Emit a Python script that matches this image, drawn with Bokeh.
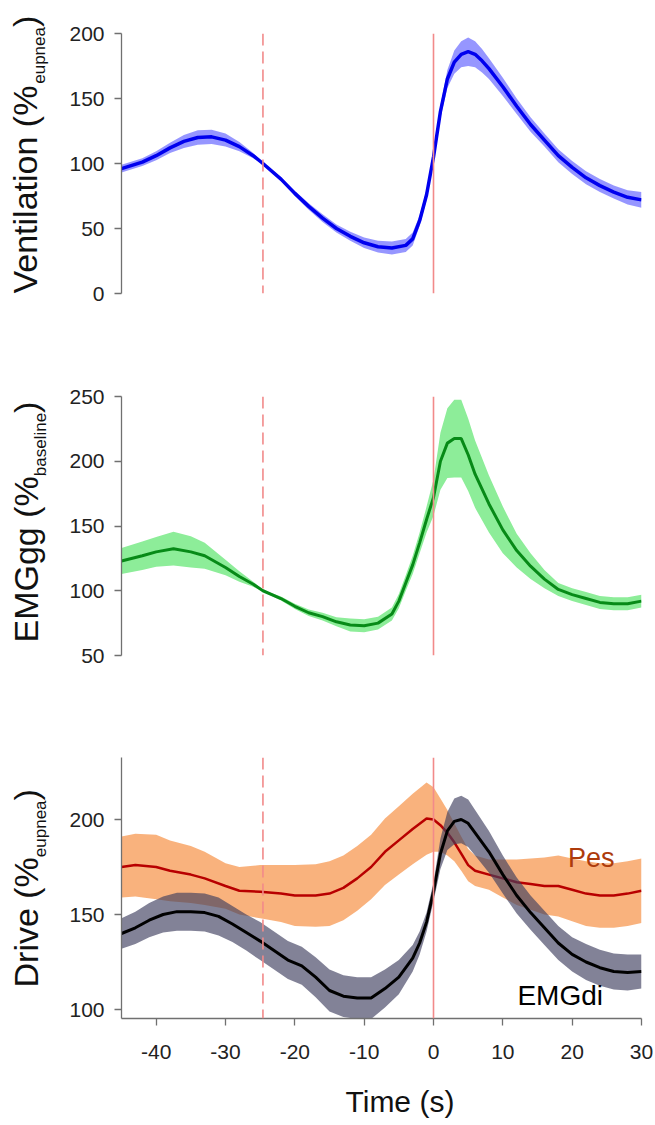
import numpy as np
from bokeh.plotting import figure
from bokeh.layouts import column, row
from bokeh.models import Span, FixedTicker, Range1d
from bokeh.core.properties import value
from bokeh.embed import file_html
from bokeh.resources import INLINE

# ---------------- data ----------------
vent_t = [-45, -42, -40, -38, -36, -34, -32, -30, -28, -26,
          -24.6, -22, -20, -18, -16, -14, -12, -10, -8, -6,
          -4, -3, -2, -1, 0, 1, 2, 3, 4, 5,
          6, 7, 8, 10, 12, 14, 16, 18, 20, 22,
          24, 26, 28, 30]
vent_mean = [96, 101, 106, 112, 117, 120, 120.5, 118, 113, 106,
             100, 88, 77, 67, 58, 50, 44, 39, 36, 35,
             37, 42, 56, 76, 105, 140, 165, 178, 184, 186,
             184, 179, 173, 159, 144, 130, 118, 106, 97, 89,
             83, 78, 74, 72]
vent_sem = [3, 3, 3.5, 4, 5, 5.5, 5.5, 5, 3.5, 2,
            0.5, 1.5, 2, 2.5, 3, 3, 3.5, 4, 4.5, 5,
            5, 5, 4, 4, 3, 5, 7, 9, 10, 11,
            10, 9, 8, 7, 6, 5.5, 5, 5, 5, 5,
            5, 5, 5.5, 6]

gg_t = [-45, -42, -40, -37.5, -35, -33, -30, -28, -26, -24.6,
        -22, -20, -18, -16, -14, -12, -10, -8, -6, -5,
        -4, -3, -2, -1, 0, 1, 2, 3, 4, 5,
        6, 8, 10, 12, 14, 16, 18, 20, 22, 24,
        26, 28, 30]
gg_mean = [123, 127, 130, 132.5, 130, 127, 118, 111, 105, 100,
           94, 88, 83, 80, 76, 73.5, 73, 75, 82, 92,
           106, 120, 137, 155, 172, 200, 214, 217.5, 217.5, 205,
           190, 167, 147, 131, 119, 109, 101, 97, 94, 91,
           90, 90, 92]
gg_sem = [10, 11, 11.5, 13, 12, 10, 6, 4, 2, 0.5,
          1.5, 2, 2.5, 3, 3.5, 5, 5, 5, 5, 5.5,
          6, 7, 8, 10, 14, 22, 27, 30, 30, 28,
          26, 22, 18, 13, 10, 7, 5, 5, 5, 5,
          5, 5, 5]

pes_t = [-45, -43, -40, -38, -35, -33, -30, -28, -25, -22,
         -20, -17, -15, -13, -11, -9, -7, -5, -3, -1,
         0, 1, 2, 3, 4, 5, 6, 8, 10, 12,
         14, 16, 18, 20, 22, 24, 26, 28, 30]
pes_mean = [175, 176, 175, 173, 171, 169, 165, 162.5, 162, 161,
            160, 160, 161, 164, 169, 175, 183, 189, 195, 200.5,
            200, 197, 193, 188, 182, 176, 173, 171, 169, 167,
            166, 165, 165, 163, 161, 160, 160, 161, 162.5]
pes_sem = [16, 16.5, 17, 16, 15, 14, 12, 12.5, 14, 15,
           16, 16.5, 17, 17, 17, 17, 17.5, 18, 18.5, 19,
           17, 14, 12, 10, 9, 8.5, 8, 8, 10, 12,
           13.5, 15, 16, 16.5, 17, 17, 17, 17, 17]

di_t = [-45, -43, -41, -39, -37, -35, -33, -31, -29, -27,
        -25, -23, -21, -19, -17, -15, -13, -11, -9, -7,
        -5, -3, -2, -1, 0, 1, 2, 3, 4, 5,
        6, 8, 10, 12, 14, 16, 18, 20, 22, 24,
        26, 28, 30]
di_mean = [140, 143, 147, 150, 151.5, 151.5, 151, 149, 145, 140.5,
           136, 131, 126, 123, 117, 110, 107, 106, 106, 111,
           117, 127, 135, 146, 162, 182, 194, 199, 200, 198,
           193, 183, 171, 160, 151, 143, 135, 129, 125, 122,
           120, 119.5, 120]
di_sem = [8, 8.5, 9, 9.5, 10, 10, 10, 10, 9.5, 9.5,
          10, 10, 10, 10, 10.5, 11, 11, 11, 11, 10,
          9, 7, 6, 5, 5, 8, 10, 12, 12.5, 12.5,
          12, 11, 10, 9.5, 9, 9, 9, 9, 9.5, 9.5,
          9.5, 9.5, 9]

x_ticks = [-40, -30, -20, -10, 0, 10, 20, 30]
vent_ticks = [0, 50, 100, 150, 200]
gg_ticks = [50, 100, 150, 200, 250]
drive_ticks = [100, 150, 200]
event_lines = [-24.6, 0]

# ---------------- layout helpers ----------------
PAGE_H = 1125
X0, X1 = -45, 30
LABEL_W = 62              # width of the strip holding the rotated y titles
FRAME_LEFT = 121          # page px of the plot frame's left edge
FRAME_W = 520
RIGHT_PAD = 14
FONT = "Liberation Sans"
MID = 0.358               # 'middle' anchor sits this many em above the baseline

ARIAL_W = {'V': 667, 'e': 556, 'n': 556, 't': 278, 'i': 222, 'l': 222, 'a': 556,
           'o': 556, ' ': 278, '(': 333, '%': 889, ')': 333, 'u': 556, 'p': 556,
           'E': 667, 'M': 833, 'G': 778, 'g': 556, 'b': 556, 's': 500, 'D': 722,
           'r': 333, 'v': 500}


def tw(s, size):
    return sum(ARIAL_W.get(c, 556) for c in s) / 1000.0 * size


def blank_fig(w, h, x_start=0, bl=0, br=0):
    f = figure(frame_width=w, frame_height=h, min_border=0,
               min_border_left=bl, min_border_right=br,
               x_range=Range1d(x_start, x_start + w), y_range=Range1d(0, h),
               x_axis_location=None, y_axis_location=None,
               output_backend="svg", toolbar_location=None)
    f.outline_line_color = None
    f.grid.visible = False
    f.background_fill_color = "white"
    f.border_fill_color = "white"
    return f


def put_text(f, x, y, text, size, color="#111111", angle=0.0):
    f.text(x=[x], y=[y], text=[text], angle=angle,
           text_font=value(FONT), text_font_size=value(f"{size}px"),
           text_color=color, text_align="left", text_baseline="middle")


def make_panel(ymin, ymax, yticks, frame_h, btop, bbot, with_x=False):
    p = figure(frame_width=FRAME_W, frame_height=frame_h,
               min_border_left=FRAME_LEFT - LABEL_W, min_border_right=RIGHT_PAD,
               min_border_top=btop, min_border_bottom=bbot,
               x_range=Range1d(X0, X1), y_range=Range1d(ymin, ymax),
               x_axis_location="below" if with_x else None,
               output_backend="svg", toolbar_location=None)
    p.outline_line_color = None
    p.grid.visible = False
    p.background_fill_color = "white"
    p.border_fill_color = "white"
    axes = [p.yaxis[0]] + ([p.xaxis[0]] if with_x else [])
    for ax in axes:
        ax.axis_line_color = "#707070"
        ax.axis_line_width = 1.3
        ax.major_tick_line_color = "#707070"
        ax.major_tick_line_width = 1.3
        ax.major_tick_out = 7
        ax.major_tick_in = 0
        ax.minor_tick_line_color = None
        ax.major_label_text_font = FONT
        ax.major_label_text_font_size = "21px"
        ax.major_label_text_color = "#222222"
    p.yaxis.ticker = FixedTicker(ticks=yticks)
    p.yaxis.major_label_standoff = 10
    if with_x:
        p.xaxis.ticker = FixedTicker(ticks=x_ticks)
        p.xaxis.major_label_overrides = {t: str(t) for t in x_ticks}
        p.xaxis.major_label_standoff = 19
    for i, loc in enumerate(event_lines):
        p.add_layout(Span(location=loc, dimension="height", line_color="#F28A8A",
                          line_width=1.6, line_dash="12 6" if i == 0 else "solid"))
    return p


def band(p, t, m, s, color, alpha):
    m = np.array(m, dtype=float)
    s = np.array(s, dtype=float)
    p.varea(x=t, y1=m - s, y2=m + s, fill_color=color, fill_alpha=alpha)


MAIN, SUB = 34, 17

# ---------------- left strip with rotated titles (page pixel coords) ----------------
strip = blank_fig(LABEL_W, PAGE_H)


def ytitle(start_page_y, parts):
    """Rotated title read bottom-to-top; parts: (text, size, baseline page x)."""
    y = PAGE_H - start_page_y
    for text, size, bx in parts:
        put_text(strip, bx - MID * size, y, text, size, angle=np.pi / 2)
        y += tw(text, size)


ytitle(293, [("Ventilation (%", MAIN, 37), ("eupnea", SUB, 45), (")", MAIN, 37)])
ytitle(642, [("EMGgg (%", MAIN, 38), ("baseline", SUB, 46), (")", MAIN, 38)])
ytitle(987, [("Drive (%", MAIN, 38), ("eupnea", SUB, 46), (")", MAIN, 38)])

# ---------------- panel 1 ----------------
p1 = make_panel(0, 200, vent_ticks, 260, 33, 38)
band(p1, vent_t, vent_mean, vent_sem, "#5050FF", 0.6)
p1.line(vent_t, vent_mean, line_color="#0000EE", line_width=3.5)

# ---------------- panel 2 ----------------
p2 = make_panel(50, 250, gg_ticks, 259, 65, 38)
band(p2, gg_t, gg_mean, gg_sem, "#8DED99", 1.0)
p2.line(gg_t, gg_mean, line_color="#078A17", line_width=3)

# ---------------- panel 3 ----------------
D_SCALE = 1.9             # px per unit
d_min = 200 - 199 / D_SCALE
d_max = d_min + 261 / D_SCALE
p3 = make_panel(d_min, d_max, drive_ticks, 261, 64, 50, with_x=True)
band(p3, pes_t, pes_mean, pes_sem, "#F8A466", 0.85)
p3.line(pes_t, pes_mean, line_color="#B80000", line_width=2.5)
band(p3, di_t, di_mean, di_sem, "#3F3F60", 0.65)
p3.line(di_t, di_mean, line_color="black", line_width=3)
put_text(p3, 19.4, 174.7 + MID * 27 / D_SCALE, "Pes", 27, color="#AD3B0C")
put_text(p3, 12.1, 102.1 + MID * 28 / D_SCALE, "EMGdi", 28, color="#000000")

# ---------------- x title strip (frame aligned with the plot frames; page px) ----------------
XS_H = PAGE_H - (331 + 362 + 375)
xs = blank_fig(FRAME_W, XS_H, x_start=FRAME_LEFT,
               bl=FRAME_LEFT - LABEL_W, br=RIGHT_PAD)
put_text(xs, 345, (PAGE_H - 1112) + MID * 30, "Time (s)", 30)

layout = row(strip, column(p1, p2, p3, xs, spacing=0), spacing=0)
open("out.html", "w").write(file_html(layout, INLINE, "chart"))
